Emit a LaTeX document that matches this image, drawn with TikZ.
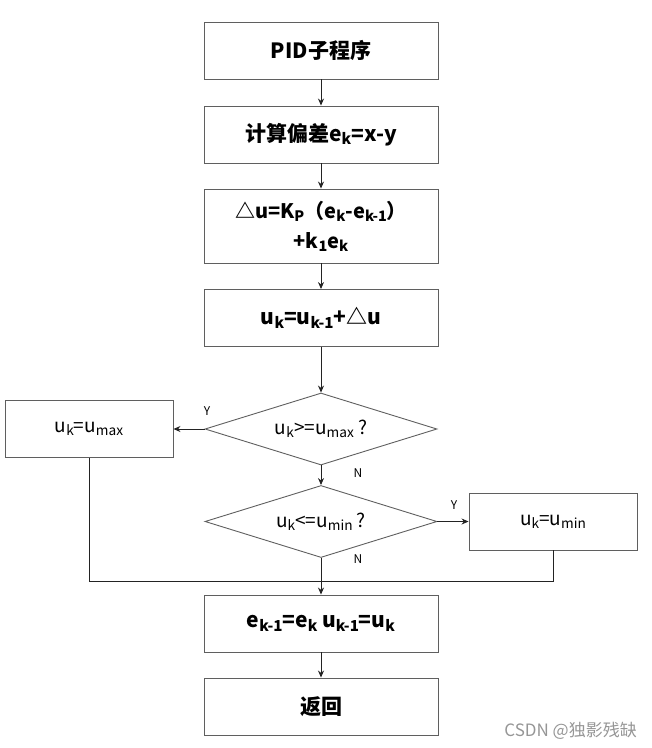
\documentclass[tikz,border=0pt]{standalone}
\usepackage{fontspec}
\setmainfont{Noto Sans CJK SC}
\usetikzlibrary{arrows.meta, shapes.geometric}

\definecolor{cEdge}{RGB}{ 95, 95, 95}
\definecolor{cWire}{RGB}{ 35, 35, 35}
\definecolor{cMark}{RGB}{150,150,150}

\newcommand{\sbx}[1]{\raisebox{-0.3ex}{\scalebox{0.72}{#1}}}

\begin{document}
\begin{tikzpicture}[
  x=1pt, y=-1pt,
  %% process box
  procbox/.style={
    rectangle, draw=cEdge, line width=0.9pt, fill=white,
    minimum width=234pt, minimum height=57pt, inner sep=0pt,
    font=\fontsize{21}{30}\selectfont\bfseries, align=center
  },
  %% side box (left / right branches)
  sidebox/.style={
    procbox, minimum width=168pt, font=\fontsize{19}{22}\selectfont
  },
  %% decision diamond
  decide/.style={
    diamond, draw=cEdge, line width=0.9pt, aspect=3.2,
    minimum width=232pt, minimum height=72pt, inner sep=0pt,
    font=\fontsize{19}{22}\selectfont
  },
  %% solid arrow
  arr/.style={
    -{Stealth[length=7pt,width=6pt]}, draw=cWire, line width=0.9pt
  },
  wire/.style={draw=cWire, line width=0.9pt},
  yn/.style={font=\fontsize{12}{14}\selectfont, inner sep=0pt},
]

\useasboundingbox (0,0) rectangle (652,748);

%% ── Main column ──────────────────────────────────────────────────────────────
\node[procbox] (start) at (321, 50.5) {PID子程序};
\node[procbox] (err)   at (321,134.5) {计算偏差e\sbx{k}=x-y};
\node[procbox, minimum height=74pt, font=\fontsize{20}{30}\selectfont\bfseries]
  (delta) at (321,226)
  {△u=K\sbx{P}（e\sbx{k}-e\sbx{k-1}）\\+k\sbx{1}e\sbx{k}};
\node[procbox] (acc)   at (321,318) {u\sbx{k}=u\sbx{k-1}+△u};

%% ── Decisions ────────────────────────────────────────────────────────────────
\node[decide] (dmax) at (321,429) {u\sbx{k}>=u\sbx{max} ?};
\node[decide] (dmin) at (321,521.5) {u\sbx{k}<=u\sbx{min} ?};

%% branch boxes
\node[sidebox] (umax) at (89,429)  {u\sbx{k}=u\sbx{max}};
\node[sidebox] (umin) at (553,521.5) {u\sbx{k}=u\sbx{min}};

%% ── Tail ─────────────────────────────────────────────────────────────────────
\node[procbox] (save) at (321,623.5) {e\sbx{k-1}=e\sbx{k} u\sbx{k-1}=u\sbx{k}};
\node[procbox] (ret)  at (321,706.5) {返回};

%% ── Connectors ───────────────────────────────────────────────────────────────
\draw[arr] (start) -- (err);
\draw[arr] (err)   -- (delta);
\draw[arr] (delta) -- (acc);
\draw[arr] (acc)   -- (dmax);

\draw[arr] (dmax.west) -- (umax.east);
\node[yn] (ymax) at (207,411) {Y};
\draw[arr] (dmax.south) -- (dmin.north);
\node[yn] (nmax) at (358,473) {N};

\draw[arr] (dmin.east) -- (umin.west);
\node[yn] (ymin) at (454,505) {Y};
\draw[arr] (dmin.south) -- (save.north);
\node[yn] (nmin) at (358,559) {N};

%% merge of both branches
\coordinate (join) at (321,581);
\draw[wire] (umax.south) |- (join);
\draw[wire] (umin.south) |- (join);

\draw[arr] (save) -- (ret);

%% watermark
\node[font=\fontsize{17}{19}\selectfont, text=cMark, anchor=east, inner sep=0pt]
  (mark) at (637,731) {CSDN @独影残缺};

\end{tikzpicture}
\end{document}
